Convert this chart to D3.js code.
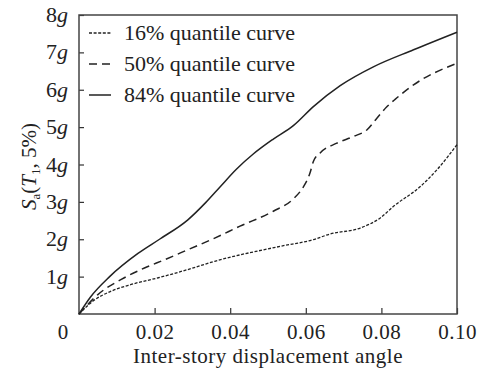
<!DOCTYPE html>
<html>
<head>
<meta charset="utf-8">
<script src="https://cdn.jsdelivr.net/npm/d3@7"></script>
<style>
  body { margin: 0; background: #fff; }
</style>
</head>
<body>
<div id="chart"></div>
<script>
// inter-story drift (x) and Sa in g (y)
const driftP84 = [0, 0.003, 0.0081, 0.0156, 0.0213, 0.0288, 0.0335, 0.0373, 0.0417, 0.0461, 0.0514, 0.0567, 0.062, 0.0691, 0.078, 0.0885, 0.1];
const saP84 = [0, 0.45, 1.0, 1.62, 2.0, 2.52, 2.98, 3.40, 3.88, 4.28, 4.68, 5.04, 5.55, 6.11, 6.62, 7.07, 7.54];

const driftP50 = [0, 0.005, 0.012, 0.0173, 0.0226, 0.0288, 0.0359, 0.0426, 0.0514, 0.0567, 0.0594, 0.0611, 0.062, 0.0638, 0.0682, 0.0726, 0.0762, 0.0788, 0.0815, 0.0837, 0.0885, 0.1];
const saP50 = [0, 0.52, 0.97, 1.23, 1.45, 1.72, 2.03, 2.35, 2.75, 3.08, 3.41, 3.77, 4.08, 4.31, 4.57, 4.75, 4.93, 5.24, 5.55, 5.75, 6.13, 6.71];

const driftP16 = [0, 0.004, 0.0085, 0.0138, 0.021, 0.0288, 0.0359, 0.0532, 0.062, 0.0664, 0.0744, 0.0797, 0.0832, 0.0903, 0.0947, 0.1];
const saP16 = [0, 0.37, 0.61, 0.79, 0.97, 1.19, 1.41, 1.81, 1.99, 2.14, 2.30, 2.57, 2.88, 3.41, 3.86, 4.53];

const xTicks = [0.02, 0.04, 0.06, 0.08, 0.10];
const yTicks = [1, 2, 3, 4, 5, 6, 7, 8];
const legendLabels = ['16%', '50%', '84%'];

const FONT = '"Liberation Serif", "Times New Roman", Times, serif';

const series = [
  { name: legendLabels[0], xs: driftP16, ys: saP16, dash: '3,1.6', width: 1.3 },
  { name: legendLabels[1], xs: driftP50, ys: saP50, dash: '8,5', width: 1.5 },
  { name: legendLabels[2], xs: driftP84, ys: saP84, dash: null, width: 1.5 }
];

const width = 479, height = 373;
const margin = { top: 15, right: 22, bottom: 59, left: 79 };

const svg = d3.select('#chart').append('svg')
  .attr('width', width)
  .attr('height', height)
  .attr('font-family', FONT);

const x = d3.scaleLinear().domain([0, 0.1]).range([margin.left, width - margin.right]);
const y = d3.scaleLinear().domain([0, 8]).range([height - margin.bottom, margin.top]);

// axes with inward ticks
svg.append('g')
  .attr('transform', `translate(0, ${y(0)})`)
  .call(d3.axisBottom(x).tickValues(xTicks).tickSizeInner(-6).tickSizeOuter(0).tickFormat(d3.format('.2f')))
  .attr('font-family', FONT)
  .attr('font-size', 21)
  .call(g => g.select('.domain').remove())
  .call(g => g.selectAll('.tick line').attr('stroke', '#333').attr('stroke-width', 1.2))
  .call(g => g.selectAll('.tick text').attr('y', 25).attr('dy', 0).attr('fill', '#222').attr('letter-spacing', 0.5));

svg.append('g')
  .attr('transform', `translate(${x(0)}, 0)`)
  .call(d3.axisLeft(y).tickValues(yTicks).tickSizeInner(-5).tickSizeOuter(0).tickFormat(() => ''))
  .call(g => g.select('.domain').remove())
  .call(g => g.selectAll('.tick line').attr('stroke', '#333').attr('stroke-width', 1.2))
  .call(g => g.selectAll('.tick text').remove());

// y tick labels: number + italic g
const yLab = svg.append('g').selectAll('text')
  .data(yTicks)
  .join('text')
  .attr('x', x(0) - 11)
  .attr('y', d => y(d) + 7)
  .attr('text-anchor', 'end')
  .attr('font-size', 22)
  .attr('fill', '#222');
yLab.append('tspan').text(d => d);
yLab.append('tspan').attr('font-style', 'italic').text('g');

svg.append('text')
  .attr('x', x(0) - 16)
  .attr('y', y(0) + 25)
  .attr('text-anchor', 'middle')
  .attr('font-size', 21)
  .attr('fill', '#222')
  .text('0');

// frame
svg.append('rect')
  .attr('x', x(0))
  .attr('y', y(8))
  .attr('width', x(0.1) - x(0))
  .attr('height', y(0) - y(8))
  .attr('fill', 'none')
  .attr('stroke', '#444')
  .attr('stroke-width', 1.5);

// curves
const line = d3.line()
  .x(d => x(d[0]))
  .y(d => y(d[1]))
  .curve(d3.curveMonotoneX);

svg.append('g').selectAll('path')
  .data(series)
  .join('path')
  .attr('d', s => line(s.xs.map((v, i) => [v, s.ys[i]])))
  .attr('fill', 'none')
  .attr('stroke', '#222')
  .attr('stroke-width', s => s.width)
  .attr('stroke-dasharray', s => s.dash);

// legend
const rows = svg.append('g').selectAll('g')
  .data(series)
  .join('g')
  .attr('transform', (d, i) => `translate(89, ${33 + i * 31})`);
rows.append('line')
  .attr('x1', 0).attr('x2', 22)
  .attr('stroke', '#222')
  .attr('stroke-width', d => d.width)
  .attr('stroke-dasharray', d => d.dash);
rows.append('text')
  .attr('x', 35)
  .attr('y', 7)
  .attr('font-size', 22)
  .attr('fill', '#222')
  .text(d => `${d.name} quantile curve`);

// axis titles
svg.append('text')
  .attr('x', (x(0) + x(0.1)) / 2)
  .attr('y', 363)
  .attr('text-anchor', 'middle')
  .attr('font-size', 21)
  .attr('letter-spacing', 0.5)
  .attr('fill', '#222')
  .text('Inter-story displacement angle');

const yTitle = svg.append('text')
  .attr('transform', `translate(36, ${(y(0) + y(8)) / 2 + 2}) rotate(-90)`)
  .attr('text-anchor', 'middle')
  .attr('font-size', 21)
  .attr('fill', '#222');
yTitle.append('tspan').attr('font-style', 'italic').text('S');
yTitle.append('tspan').attr('dy', 4).attr('font-size', 13).text('a');
yTitle.append('tspan').attr('dy', -4).text('(');
yTitle.append('tspan').attr('font-style', 'italic').text('T');
yTitle.append('tspan').attr('dy', 4).attr('font-size', 13).text('1');
yTitle.append('tspan').attr('dy', -4).text(', 5%)');
</script>
</body>
</html>
